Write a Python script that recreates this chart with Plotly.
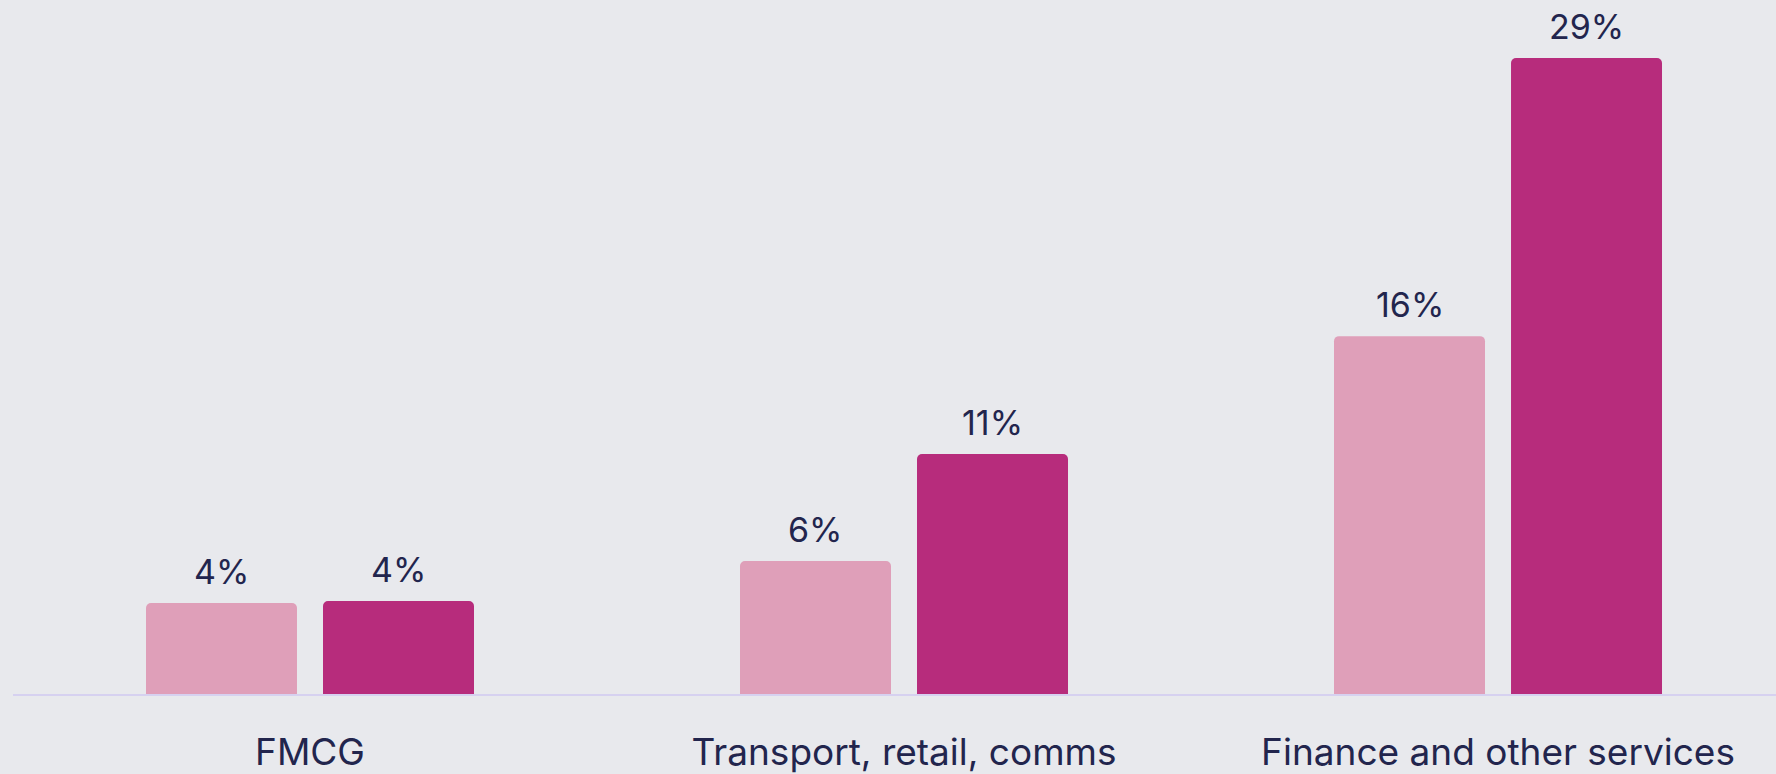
import plotly.graph_objects as go

# Sector shares, two series per sector
categories = ["FMCG", "Transport, retail, comms", "Finance and other services"]
series_a = [4.15, 6.06, 16.32]
series_b = [4.24, 10.94, 29.0]
colors = ["#df9fb9", "#b72c7c"]

BG = "#e8e9ed"
INK = "#22254d"
FONT = "Inter"

BARGAP = 0.404
GROUPGAP = 0.147
CAT_PX = 594  # pixel width of one category on the x axis

fig = go.Figure()
for vals, color in zip([series_a, series_b], colors):
    fig.add_trace(go.Bar(
        x=categories,
        y=vals,
        marker=dict(color=color, line=dict(width=0)),
        hoverinfo="skip",
    ))

# value labels above each bar, offset to the bar's slot inside its group
slot_px = CAT_PX * (1 - BARGAP) / 2
annotations = []
for i, vals in enumerate([series_a, series_b]):
    for cat, v in zip(categories, vals):
        annotations.append(dict(
            x=cat, y=v, xref="x", yref="y",
            text=f"{v:.0f}%",
            showarrow=False,
            yanchor="bottom",
            xshift=(i - 0.5) * slot_px,
            yshift=9,
            font=dict(family=FONT, size=34, color=INK),
        ))

fig.update_layout(
    width=1776,
    height=774,
    paper_bgcolor=BG,
    plot_bgcolor=BG,
    margin=dict(l=13, r=0, t=0, b=80),
    barmode="group",
    bargap=BARGAP,
    bargroupgap=GROUPGAP,
    barcornerradius=5,
    showlegend=False,
    annotations=annotations,
    font=dict(family=FONT, color=INK),
    xaxis=dict(
        range=[-0.5, 2.468],
        automargin=False,
        showgrid=False,
        zeroline=False,
        showline=True,
        linecolor="rgba(212,206,240,0.9)",
        linewidth=2,
        ticks="",
        tickfont=dict(family=FONT, size=37, color=INK),
        ticklabelstandoff=25,
    ),
    yaxis=dict(
        range=[0, 31.65],
        visible=False,
        automargin=False,
        showgrid=False,
        zeroline=False,
    ),
)

fig.write_html("out.html")
